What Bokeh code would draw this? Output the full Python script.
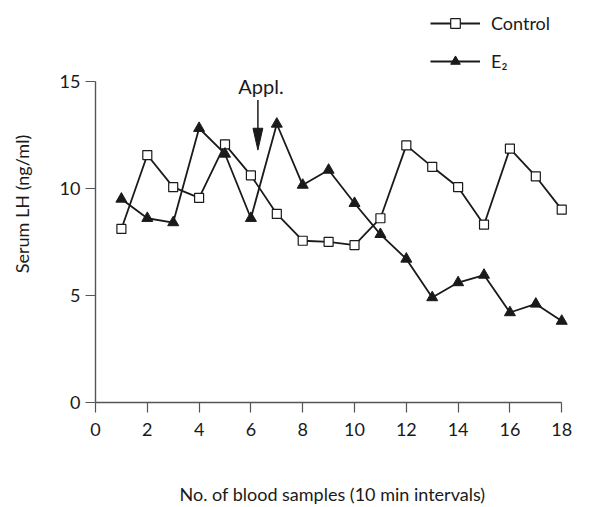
from bokeh.plotting import figure
from bokeh.models import Range1d, FixedTicker, Legend, LegendItem, ColumnDataSource
from bokeh.core.properties import value
from bokeh.embed import file_html
from bokeh.resources import INLINE

samples = list(range(1, 19))
control = [8.1, 11.55, 10.05, 9.55, 12.05, 10.6, 8.8, 7.55, 7.5, 7.35, 8.6, 12.0, 11.0, 10.05, 8.3, 11.85, 10.55, 9.0]
e2 = [9.5, 8.6, 8.4, 12.8, 11.6, 8.6, 13.0, 10.15, 10.85, 9.3, 7.85, 6.7, 4.9, 5.6, 5.95, 4.2, 4.6, 3.8]
x_ticks = list(range(0, 19, 2))
y_ticks = [0, 5, 10, 15]
series_labels = ["Control", "E\u2082"]
annot_text = "Appl."
annot_x = 6.27
annot_text_y = 14.77
arrow_top = 14.12
arrow_tip = 11.78
head_len = 1.02
head_half_w = 0.19

FONT = "Lato"
INK = "#1a1a1a"
AX = "#555555"

p = figure(width=602, height=507, output_backend="svg", toolbar_location=None,
           x_range=Range1d(0, 18.3), y_range=Range1d(0, 18.53),
           min_border_left=95, min_border_right=33, min_border_top=5, min_border_bottom=103)
p.outline_line_color = None
p.xgrid.visible = False
p.ygrid.visible = False

for ax in (p.xaxis[0], p.yaxis[0]):
    ax.axis_line_color = AX
    ax.axis_line_width = 1.4
    ax.major_tick_line_color = AX
    ax.major_tick_line_width = 1.2
    ax.major_tick_out = 10
    ax.major_tick_in = 0
    ax.minor_tick_line_color = None
    ax.major_label_text_font = FONT
    ax.major_label_text_font_size = "18px"
    ax.major_label_text_color = INK
    ax.axis_label_text_font = FONT
    ax.axis_label_text_font_size = "18px"
    ax.axis_label_text_font_style = "normal"
    ax.axis_label_text_color = INK

p.xaxis.bounds = (0, 18)
p.yaxis.bounds = (0, 15)
p.xaxis.ticker = FixedTicker(ticks=x_ticks)
p.yaxis.ticker = FixedTicker(ticks=y_ticks)
p.xaxis.major_label_standoff = 10
p.yaxis.major_label_standoff = 5
p.xaxis.axis_label = "No. of blood samples (10 min intervals)"
p.yaxis.axis_label = "Serum LH (ng/ml)"
p.xaxis.axis_label_standoff = 44
p.yaxis.axis_label_standoff = 24

src = ColumnDataSource(dict(x=samples, c=control, e=e2))

l1 = p.line("x", "c", source=src, line_color=INK, line_width=1.8)
m1 = p.scatter("x", "c", source=src, marker="square", size=9,
               fill_color="white", line_color=INK, line_width=1.2)
l2 = p.line("x", "e", source=src, line_color=INK, line_width=1.8)
m2 = p.scatter("x", "e", source=src, marker="triangle", size=11,
               fill_color=INK, line_color=INK, line_width=1)

# application arrow
p.segment(x0=[annot_x], y0=[arrow_top], x1=[annot_x], y1=[arrow_tip + head_len * 0.8],
          line_color=INK, line_width=1.5)
p.patch(x=[annot_x - head_half_w, annot_x + head_half_w, annot_x],
        y=[arrow_tip + head_len, arrow_tip + head_len, arrow_tip],
        fill_color=INK, line_color=INK, line_width=1)
p.text(x=[annot_x + 0.12], y=[annot_text_y], text=[annot_text], text_font=value(FONT),
       text_font_size="20px", text_align="center", text_baseline="alphabetic", text_color=INK)

legend = Legend(items=[LegendItem(label=series_labels[0], renderers=[l1, m1]),
                       LegendItem(label=series_labels[1], renderers=[l2, m2])],
                location=(335, 329), padding=0, margin=0, spacing=14,
                glyph_width=50, glyph_height=24, label_height=24, label_standoff=11,
                label_text_font=FONT, label_text_font_size="18px", label_text_color=INK,
                border_line_color=None, background_fill_alpha=0)
p.add_layout(legend, "center")

open("out.html", "w").write(file_html(p, INLINE))
